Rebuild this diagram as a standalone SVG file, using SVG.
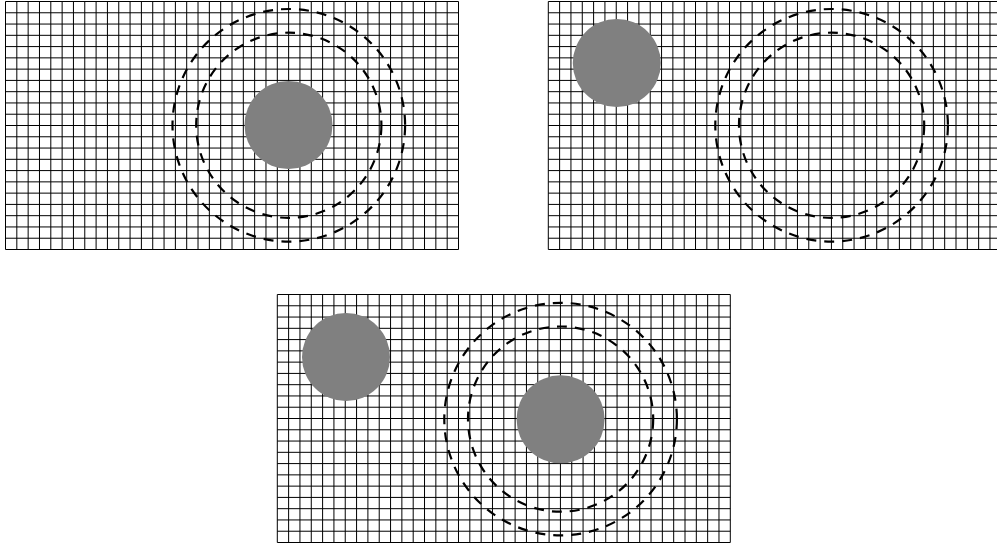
<svg xmlns="http://www.w3.org/2000/svg" xmlns:xlink="http://www.w3.org/1999/xlink" width="997" height="548" viewBox="0 0 997 548">
<style>
.grid{fill:none;stroke:#000;stroke-width:1}
.disk{fill:#808080;stroke:none}
.ring{fill:none;stroke:#000;stroke-width:2.2;stroke-dasharray:10 8}
</style>
<defs>
<path id="gridlines" class="grid" d="M0 0V248M11.325 0V248M22.65 0V248M33.975 0V248M45.3 0V248M56.625 0V248M67.95 0V248M79.275 0V248M90.6 0V248M101.925 0V248M113.25 0V248M124.575 0V248M135.9 0V248M147.225 0V248M158.55 0V248M169.875 0V248M181.2 0V248M192.525 0V248M203.85 0V248M215.175 0V248M226.5 0V248M237.825 0V248M249.15 0V248M260.475 0V248M271.8 0V248M283.125 0V248M294.45 0V248M305.775 0V248M317.1 0V248M328.425 0V248M339.75 0V248M351.075 0V248M362.4 0V248M373.725 0V248M385.05 0V248M396.375 0V248M407.7 0V248M419.025 0V248M430.35 0V248M441.675 0V248M453 0V248M0 0H453M0 11.27H453M0 22.55H453M0 33.82H453M0 45.09H453M0 56.36H453M0 67.64H453M0 78.91H453M0 90.18H453M0 101.45H453M0 112.73H453M0 124H453M0 135.27H453M0 146.55H453M0 157.82H453M0 169.09H453M0 180.36H453M0 191.64H453M0 202.91H453M0 214.18H453M0 225.45H453M0 236.73H453M0 248H453"/>
<g id="rings">
<circle class="ring" cx="283.3" cy="123.8" r="116.3"/>
<circle class="ring" cx="283.3" cy="123.8" r="92.6"/>
</g>
</defs>
<g id="panel1" transform="translate(5.5 1.5)">
<use xlink:href="#gridlines"/>
<circle class="disk" cx="283" cy="123.5" r="44"/>
<use xlink:href="#rings"/>
</g>
<g id="panel2" transform="translate(548.3 1.5)">
<use xlink:href="#gridlines"/>
<circle class="disk" cx="68.5" cy="61.5" r="44"/>
<use xlink:href="#rings"/>
</g>
<g id="panel3" transform="translate(277.3 294.5)">
<use xlink:href="#gridlines"/>
<circle class="disk" cx="68.7" cy="62.5" r="44"/>
<circle class="disk" cx="283.3" cy="124.8" r="44"/>
<use xlink:href="#rings" transform="translate(0 0.8)"/>
</g>
</svg>
